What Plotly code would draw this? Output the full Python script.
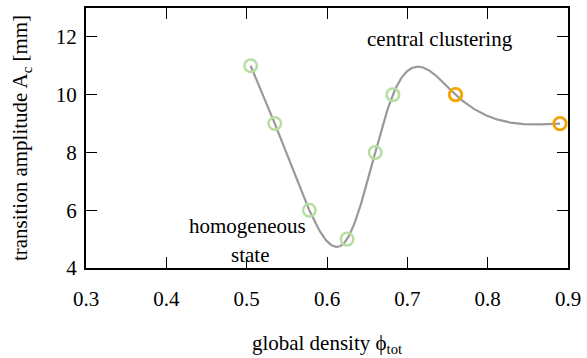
import numpy as np
import plotly.graph_objects as go

# data
phi_green = [0.505, 0.535, 0.578, 0.625, 0.660, 0.682]
amp_green = [11, 9, 6, 5, 8, 10]
phi_orange = [0.760, 0.890]
amp_orange = [10, 9]
x_ticks = [0.3, 0.4, 0.5, 0.6, 0.7, 0.8, 0.9]
y_ticks = [4, 6, 8, 10, 12]


def natural_cubic_spline(x, y, xs):
    x = np.asarray(x, float)
    y = np.asarray(y, float)
    n = len(x)
    h = np.diff(x)
    A = np.zeros((n, n))
    b = np.zeros(n)
    A[0, 0] = 1
    A[-1, -1] = 1
    for i in range(1, n - 1):
        A[i, i - 1] = h[i - 1]
        A[i, i] = 2 * (h[i - 1] + h[i])
        A[i, i + 1] = h[i]
        b[i] = 3 * ((y[i + 1] - y[i]) / h[i] - (y[i] - y[i - 1]) / h[i - 1])
    c = np.linalg.solve(A, b)
    out = np.empty_like(xs)
    for k, xv in enumerate(xs):
        i = min(max(np.searchsorted(x, xv) - 1, 0), n - 2)
        dx = xv - x[i]
        bi = (y[i + 1] - y[i]) / h[i] - h[i] * (2 * c[i] + c[i + 1]) / 3
        di = (c[i + 1] - c[i]) / (3 * h[i])
        out[k] = y[i] + bi * dx + c[i] * dx ** 2 + di * dx ** 3
    return out


all_x = phi_green + phi_orange
all_y = amp_green + amp_orange
xs = np.linspace(all_x[0], all_x[-1], 400)
ys = natural_cubic_spline(all_x, all_y, xs)

serif = "Liberation Serif, Times New Roman, DejaVu Serif, serif"
fs = 21
fig = go.Figure()
fig.add_trace(go.Scatter(x=xs, y=ys, mode="lines",
                         line=dict(color="#999999", width=2.2), hoverinfo="skip"))
fig.add_trace(go.Scatter(x=phi_green, y=amp_green, mode="markers",
                         marker=dict(symbol="circle-open", size=12.5,
                                     color="#b5dea0", line=dict(width=2.5))))
fig.add_trace(go.Scatter(x=phi_orange, y=amp_orange, mode="markers",
                         marker=dict(symbol="circle-open", size=12.5,
                                     color="#f5a300", line=dict(width=2.8))))

fig.add_annotation(x=0.741, y=11.93, text="central clustering", showarrow=False,
                   font=dict(family=serif, size=fs, color="black"))
fig.add_annotation(x=0.501, y=5.44, text="homogeneous", showarrow=False,
                   font=dict(family=serif, size=fs, color="black"))
fig.add_annotation(x=0.504, y=4.44, text="state", showarrow=False,
                   font=dict(family=serif, size=fs, color="black"))

fig.update_layout(
    width=587, height=358,
    margin=dict(l=86, r=15, t=6, b=90),
    paper_bgcolor="white", plot_bgcolor="white",
    showlegend=False,
    font=dict(family=serif, size=fs, color="black"),
)
fig.update_xaxes(range=[0.3, 0.9], tickvals=x_ticks,
                 ticktext=[f"{v:.1f}" for v in x_ticks],
                 ticks="inside", ticklen=11, tickwidth=1.2, tickcolor="black",
                 showline=True, linecolor="black", linewidth=2, mirror="ticks",
                 showgrid=False, zeroline=False, ticklabelstandoff=11,
                 tickfont=dict(family=serif, size=fs),
                 title=dict(text="global density ϕ<sub>tot</sub>",
                            font=dict(family=serif, size=fs), standoff=25))
fig.update_yaxes(range=[4, 13], tickvals=y_ticks,
                 ticks="inside", ticklen=11, tickwidth=1.2, tickcolor="black",
                 showline=True, linecolor="black", linewidth=2, mirror="ticks",
                 showgrid=False, zeroline=False, ticklabelstandoff=3,
                 tickfont=dict(family=serif, size=fs),
                 title=dict(text="transition amplitude A<sub>c</sub> [mm]",
                            font=dict(family=serif, size=fs), standoff=22))

fig.write_html("out.html", config={"displayModeBar": False},
               post_script="document.body.style.margin='0';")
